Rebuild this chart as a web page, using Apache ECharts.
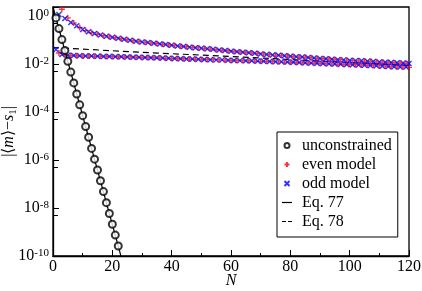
<!DOCTYPE html>
<html>
<head>
<meta charset="utf-8">
<script src="https://cdn.jsdelivr.net/npm/echarts@6/dist/echarts.min.js"></script>
<style>html,body{margin:0;padding:0;background:#fff}#c{width:422px;height:291px}</style>
</head>
<body>
<div id="c"></div>
<script>
// N values 1..120
var N = [];
for (var i = 1; i <= 120; i++) N.push(i);

var unconstrainedN = [1,2,3,4,5,6,7,8,9,10,11,12,13,14,15,16,17,18,19,20,21,22];
var unconstrained = [0.81,0.29,0.101,0.0355,0.0126,4.5e-3,1.6e-3,5.5e-4,1.95e-4,6.9e-5,2.45e-5,8.7e-6,3.0e-6,1.07e-6,3.8e-7,1.35e-7,4.8e-8,1.66e-8,5.9e-9,2.1e-9,7.4e-10,2.6e-10];

var evenModel = [2.34,0.0282,1.86,0.0229,0.813,0.0219,0.501,0.0214,0.324,0.0209,
0.240,0.0209,0.195,0.0204,0.170,0.0204,0.148,0.0200,0.132,0.0200,
0.120,0.0195,0.110,0.0191,0.100,0.0191,0.0912,0.0186,0.0832,0.0182,
0.0776,0.0182,0.0724,0.0178,0.0692,0.0174,0.0646,0.0170,0.0603,0.0166,
0.0575,0.0166,0.0537,0.0162,0.0513,0.0158,0.0479,0.0155,0.0457,0.0151,
0.0427,0.0151,0.0407,0.0148,0.0380,0.0145,0.0363,0.0141,0.0347,0.0138,
0.0324,0.0138,0.0309,0.0135,0.0295,0.0132,0.0282,0.0129,0.0269,0.0126,
0.0251,0.0126,0.0240,0.0123,0.0229,0.0120,0.0219,0.0117,0.0209,0.0115,
0.0200,0.0112,0.0191,0.0110,0.0186,0.0107,0.0178,0.0105,0.0170,0.0102,
0.0162,0.0100,0.0158,0.00977,0.0151,0.00955,0.0148,0.00933,0.0141,0.00933,
0.0138,0.00912,0.0132,0.00891,0.0129,0.00871,0.0126,0.00851,0.0120,0.00813,
0.0117,0.00794,0.0115,0.00759,0.0110,0.00741,0.0107,0.00724,0.0105,0.00708];

var oddModel = [0.0389,1.12,0.0245,0.759,0.0224,0.525,0.0219,0.380,0.0214,0.269,
0.0209,0.214,0.0209,0.182,0.0204,0.158,0.0200,0.141,0.0200,0.126,
0.0195,0.115,0.0195,0.105,0.0191,0.0955,0.0186,0.0871,0.0186,0.0813,
0.0182,0.0759,0.0178,0.0708,0.0178,0.0661,0.0174,0.0631,0.0170,0.0589,
0.0166,0.0550,0.0162,0.0525,0.0158,0.0490,0.0158,0.0468,0.0155,0.0437,
0.0151,0.0417,0.0148,0.0398,0.0145,0.0372,0.0145,0.0355,0.0141,0.0331,
0.0138,0.0316,0.0135,0.0302,0.0132,0.0288,0.0132,0.0275,0.0129,0.0257,
0.0126,0.0245,0.0123,0.0234,0.0120,0.0224,0.0120,0.0214,0.0117,0.0204,
0.0115,0.0195,0.0112,0.0191,0.0110,0.0182,0.0107,0.0174,0.0105,0.0166,
0.0102,0.0162,0.0100,0.0155,0.00977,0.0148,0.00955,0.0145,0.00933,0.0138,
0.00912,0.0135,0.00891,0.0132,0.00871,0.0126,0.00851,0.0123,0.00832,0.0117,
0.00794,0.0115,0.00776,0.0112,0.00759,0.0110,0.00741,0.0107,0.00724,0.0102];

var eq77N = [0, 23];
var eq77 = [2.3, 9.0e-11];
var eq78N = [0, 30, 60, 90, 120];
var eq78 = [0.047, 0.030, 0.020, 0.0129, 0.0085];

var xTicks = [0, 20, 40, 60, 80, 100, 120];
var legendNames = ['unconstrained', 'even model', 'odd model', 'Eq. 77', 'Eq. 78'];

function pairs(xs, ys) { return xs.map(function (x, i) { return [x, ys[i]]; }); }

var FONT = 'Liberation Serif';
var chart = echarts.init(document.getElementById('c'), null, {renderer: 'canvas'});
chart.setOption({
  animation: false,
  backgroundColor: '#fff',
  textStyle: {fontFamily: FONT},
  grid: {left: 53, right: 13, top: 7, bottom: 35, outerBoundsMode: 'none', containLabel: false,
         show: true, borderColor: '#000', borderWidth: 1.3, backgroundColor: 'transparent'},
  legend: {
    left: 277, top: 132, orient: 'vertical',
    backgroundColor: '#fff', borderColor: '#000', borderWidth: 1,
    padding: [4, 6, 6, 5],
    itemWidth: 10, itemHeight: 5, itemGap: 0, symbolKeepAspect: true,
    textStyle: {fontFamily: FONT, fontSize: 16, color: '#000', lineHeight: 19, padding: [0, 0, 0, 5]},
    data: [
      {name: legendNames[0]},
      {name: legendNames[1]},
      {name: legendNames[2]},
      {name: legendNames[3], icon: 'path://M0,0L10,0L10,1.2L0,1.2Z'},
      {name: legendNames[4], icon: 'path://M0,0L4,0L4,1.2L0,1.2ZM6,0L10,0L10,1.2L6,1.2Z'}
    ]
  },
  xAxis: {
    type: 'value', min: xTicks[0], max: xTicks[xTicks.length - 1], interval: 20,
    name: 'N', nameLocation: 'middle', nameGap: 17, nameMoveOverlap: false,
    nameTextStyle: {fontFamily: FONT, fontSize: 16, fontStyle: 'italic', color: '#000'},
    axisLine: {lineStyle: {color: '#000', width: 1.3}},
    axisTick: {inside: true, length: 6, lineStyle: {color: '#000'}},
    minorTick: {show: true, splitNumber: 2, length: 3, lineStyle: {color: '#000'}},
    axisLabel: {fontFamily: FONT, fontSize: 16, color: '#000', margin: 3},
    splitLine: {show: false}
  },
  yAxis: {
    type: 'log', logBase: 100, min: 1e-10, max: 2.3,
    name: '|\u27e8{i|m}\u27e9\u2212{i|s}{sub|1}|', nameLocation: 'middle', nameGap: 34, nameRotate: 90,
    nameMoveOverlap: false,
    nameTextStyle: {fontFamily: FONT, fontSize: 16, color: '#000', lineHeight: 20,
      rich: {i: {fontFamily: FONT, fontSize: 16, fontStyle: 'italic', lineHeight: 20},
             sub: {fontFamily: FONT, fontSize: 11, lineHeight: 10, verticalAlign: 'bottom'}}},
    axisLine: {lineStyle: {color: '#000', width: 1.3}},
    axisTick: {inside: true, length: 6, lineStyle: {color: '#000'}},
    minorTick: {show: true, splitNumber: 2, length: 5, lineStyle: {color: '#000'}},
    axisLabel: {
      fontFamily: FONT, fontSize: 16, color: '#000', margin: 4,
      formatter: function (v) {
        var e = Math.log10(v), r = Math.round(e);
        if (Math.abs(e - r) > 0.01) return '';
        return '10{sup|' + (r === 0 ? '0' : '-' + (-r)) + '}';
      },
      rich: {sup: {fontFamily: FONT, fontSize: 11, lineHeight: 10, verticalAlign: 'top'}}
    },
    splitLine: {show: false}
  },
  series: [
    {name: 'Eq. 78', type: 'line', data: pairs(eq78N, eq78), symbol: 'none', z: 2,
     lineStyle: {color: '#000', width: 1.2, type: [6, 4]}, itemStyle: {color: '#000'}},
    {name: 'even model', type: 'scatter', data: pairs(N, evenModel), z: 3,
     symbol: 'path://M0,5L10,5M5,0L5,10', symbolSize: 6,
     itemStyle: {color: '#ff0000', borderColor: '#ff0000', borderWidth: 1.4}},
    {name: 'odd model', type: 'scatter', data: pairs(N, oddModel), z: 4,
     symbol: 'path://M0,0L10,10M0,10L10,0', symbolSize: 5,
     itemStyle: {color: '#0000ff', borderColor: '#0000ff', borderWidth: 1.4}},
    {name: 'Eq. 77', type: 'line', data: pairs(eq77N, eq77), symbol: 'none', z: 5,
     lineStyle: {color: '#000', width: 1.2}, itemStyle: {color: '#000'}},
    {name: 'unconstrained', type: 'scatter', data: pairs(unconstrainedN, unconstrained), z: 6,
     symbol: 'emptyCircle', symbolSize: 7,
     itemStyle: {color: '#000', borderColor: '#000', borderWidth: 1}}
  ]
});
</script>
</body>
</html>
